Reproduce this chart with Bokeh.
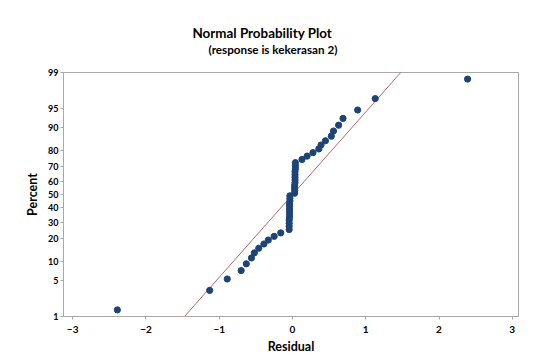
from statistics import NormalDist
from bokeh.plotting import figure
from bokeh.models import Range1d, FixedTicker, CustomJSTickFormatter, Title
from bokeh.embed import file_html
from bokeh.resources import INLINE

# ---- data (sorted residuals) ----
lower_tail = [-2.39, -1.13, -0.89, -0.70, -0.63, -0.56, -0.52, -0.46, -0.39, -0.33, -0.25, -0.16]
lower_column = [-0.045, -0.045, -0.045, -0.045, -0.04, -0.04, -0.04, -0.04, -0.04, -0.04, -0.035, -0.035, -0.035]
upper_column = [0.03, 0.03, 0.03, 0.03, 0.035, 0.035, 0.035, 0.035, 0.035, 0.04, 0.04, 0.04]
upper_tail = [0.13, 0.20, 0.28, 0.36, 0.39, 0.45, 0.53, 0.56, 0.63, 0.69, 0.89, 1.13, 2.39]

x_ticks = [-3, -2, -1, 0, 1, 2, 3]
percent_ticks = [1, 5, 10, 20, 30, 40, 50, 60, 70, 80, 90, 95, 99]
percent_labels = ["1", "5", "10", "20", "30", "40", "50", "60", "70", "80", "90", "95", "99"]

title_text = "Normal Probability Plot"
subtitle_text = "(response is kekerasan 2)"
x_label = "Residual"
y_label = "Percent"

# ---- probability-scale transform ----
nd = NormalDist()
residuals = sorted(lower_tail + lower_column + upper_column + upper_tail)
n = len(residuals)
# Minitab plotting positions (median ranks)
pct = [(i - 0.3) / (n + 0.4) for i in range(1, n + 1)]
zvals = [nd.inv_cdf(q) for q in pct]

mean = sum(residuals) / n
sd = (sum((r - mean) ** 2 for r in residuals) / (n - 1)) ** 0.5
line_z = [-3.0, 3.0]
line_x = [mean + sd * z for z in line_z]

tick_z = [nd.inv_cdf(t / 100.0) for t in percent_ticks]

FONT = "Lato"

p = figure(width=538, height=356, output_backend="svg", toolbar_location=None,
           x_range=Range1d(-3.125, 3.085),
           y_range=Range1d(nd.inv_cdf(0.01), nd.inv_cdf(0.99)),
           min_border_left=63, min_border_right=20, min_border_top=72,
           min_border_bottom=38, title=None)

p.background_fill_color = "white"
p.border_fill_color = "white"
p.grid.visible = False
p.outline_line_color = "#a8a8a8"
p.outline_line_width = 1

for ax in (p.xaxis[0], p.yaxis[0]):
    ax.axis_line_color = "#a8a8a8"
    ax.major_tick_line_color = "#a8a8a8"
    ax.major_tick_out = 3
    ax.major_tick_in = 0
    ax.minor_tick_line_color = None
    ax.major_label_text_font = FONT
    ax.major_label_text_font_style = "bold"
    ax.major_label_text_color = "black"
    ax.axis_label_text_font = FONT
    ax.axis_label_text_font_style = "bold"
    ax.axis_label_text_color = "black"

p.xaxis.ticker = FixedTicker(ticks=x_ticks)
p.xaxis.major_label_text_font_size = "10px"
p.xaxis.major_label_standoff = 6
p.xaxis.axis_label = x_label
p.xaxis.axis_label_text_font_size = "12.5px"
p.xaxis.axis_label_standoff = 3

p.yaxis.ticker = FixedTicker(ticks=tick_z)
p.yaxis.formatter = CustomJSTickFormatter(args=dict(zs=tick_z, labs=percent_labels), code="""
let best = 0;
for (let i = 0; i < zs.length; i++) {
  if (Math.abs(zs[i] - tick) < Math.abs(zs[best] - tick)) best = i;
}
return labs[best];
""")
p.yaxis.major_label_text_font_size = "9px"
p.yaxis.major_label_standoff = 2
p.yaxis.axis_label = y_label
p.yaxis.axis_label_text_font_size = "12.5px"
p.yaxis.axis_label_standoff = 5

p.line(line_x, line_z, line_color="#b86868", line_width=1)
p.scatter(residuals, zvals, size=6.2, fill_color="#1d4477", line_color="#1d4477")

p.add_layout(Title(text=subtitle_text, align="left", offset=145, text_font=FONT,
                   text_font_style="bold", text_font_size="11.7px", text_color="black",
                   vertical_align="top", standoff=30), "above")
p.add_layout(Title(text=title_text, align="left", offset=129, text_font=FONT,
                   text_font_style="bold", text_font_size="13.4px", text_color="black",
                   vertical_align="bottom", standoff=-28), "above")

open("out.html", "w").write(file_html(p, INLINE))
